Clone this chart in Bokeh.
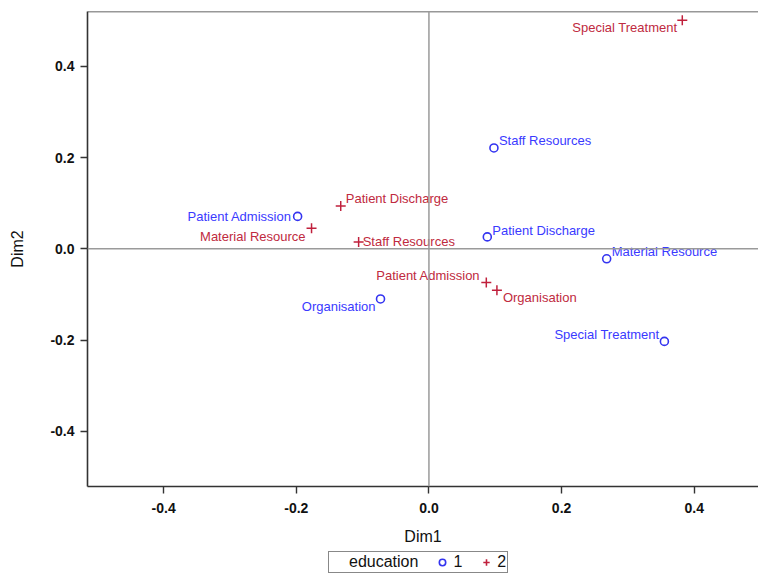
from bokeh.plotting import figure
from bokeh.layouts import column
from bokeh.models import (ColumnDataSource, Span, FixedTicker, Legend,
                          LegendItem, Range1d, PrintfTickFormatter)
from bokeh.embed import file_html
from bokeh.resources import INLINE
from bokeh.core.properties import value

# ---- data ----
categories = ["Organisation", "Patient Admission", "Patient Discharge",
              "Material Resource", "Staff Resources", "Special Treatment"]
dim1_edu1 = [-0.073, -0.198, 0.088, 0.268, 0.098, 0.355]
dim2_edu1 = [-0.110, 0.071, 0.026, -0.022, 0.221, -0.203]
dim1_edu2 = [0.1025, 0.0865, -0.133, -0.177, -0.106, 0.382]
dim2_edu2 = [-0.091, -0.074, 0.094, 0.045, 0.015, 0.501]
x_ticks = [-0.4, -0.2, 0.0, 0.2, 0.4]
y_ticks = [-0.4, -0.2, 0.0, 0.2, 0.4]
groups = ["1", "2"]
legend_title = "education"

# label placement (style): alignment and pixel offsets
align_edu1 = ["right", "right", "left", "left", "left", "right"]
dx_edu1 = [-5, -6, 5, 5, 5, -5]
dy_edu1 = [8, 0, -6, -7, -7, -7]
align_edu2 = ["left", "right", "left", "right", "left", "right"]
dx_edu2 = [6, -6, 5, -6, 4, -5]
dy_edu2 = [7, -7, -7, 8, 0, 7]

BLUE = "#3434f0"
BLUE_T = "#3a3aff"
RED = "#c0203c"
RED_T = "#c02a40"

Y_TOP = 0.520
p = figure(width=758, height=550, output_backend="svg", toolbar_location=None,
           x_range=Range1d(-0.5148, 0.4969), y_range=Range1d(-0.521, Y_TOP),
           min_border_left=87, min_border_right=0, min_border_top=11,
           min_border_bottom=64, x_axis_label="Dim1", y_axis_label="Dim2")
p.grid.visible = False
p.outline_line_color = None
p.background_fill_color = "white"
p.border_fill_color = "white"

for ax, ticks in ((p.xaxis[0], x_ticks), (p.yaxis[0], y_ticks)):
    ax.ticker = FixedTicker(ticks=ticks)
    ax.formatter = PrintfTickFormatter(format="%.1f")
    ax.minor_tick_line_color = None
    ax.major_tick_out = 7
    ax.major_tick_in = 0
    ax.axis_line_color = "#333333"
    ax.axis_line_width = 1.6
    ax.major_tick_line_color = "#333333"
    ax.major_tick_line_width = 1.4
    ax.major_label_text_font = "Liberation Sans"
    ax.major_label_text_font_style = "bold"
    ax.major_label_text_font_size = "14px"
    ax.major_label_text_color = "#111111"
    ax.axis_label_text_font = "Liberation Sans"
    ax.axis_label_text_font_style = "normal"
    ax.axis_label_text_font_size = "16px"
    ax.axis_label_text_color = "#111111"
    ax.major_label_standoff = 6
p.xaxis[0].major_label_standoff = 9
p.xaxis[0].axis_label_standoff = 12
p.yaxis[0].axis_label_standoff = 21

# top frame edge
p.add_layout(Span(location=Y_TOP, dimension="width", line_color="#333333", line_width=1.6))
# reference lines
p.add_layout(Span(location=0, dimension="width", line_color="#9a9a9a", line_width=1.5))
p.add_layout(Span(location=0, dimension="height", line_color="#9a9a9a", line_width=1.5))

s1 = ColumnDataSource(dict(x=dim1_edu1, y=dim2_edu1))
s2 = ColumnDataSource(dict(x=dim1_edu2, y=dim2_edu2))
p.scatter("x", "y", source=s1, marker="circle", size=8, fill_color=None,
          line_color=BLUE, line_width=1.6)
p.scatter("x", "y", source=s2, marker="cross", size=10,
          line_color=RED, line_width=1.5)

def add_labels(xs, ys, aligns, dxs, dys, color):
    for al in ("left", "right"):
        idx = [i for i, a in enumerate(aligns) if a == al]
        if not idx:
            continue
        src = ColumnDataSource(dict(
            x=[xs[i] for i in idx], y=[ys[i] for i in idx],
            t=[categories[i] for i in idx],
            dx=[dxs[i] for i in idx], dy=[dys[i] for i in idx]))
        p.text("x", "y", text="t", source=src, x_offset="dx", y_offset="dy",
               text_align=al, text_baseline="middle", text_color=color,
               text_font=value("Liberation Sans"), text_font_size="13px")

add_labels(dim1_edu1, dim2_edu1, align_edu1, dx_edu1, dy_edu1, BLUE_T)
add_labels(dim1_edu2, dim2_edu2, align_edu2, dx_edu2, dy_edu2, RED_T)

# ---- legend strip (its ranges keep the shared data out of view; only the key shows) ----
lf = figure(width=758, height=25, output_backend="svg", toolbar_location=None,
            x_range=Range1d(10, 11), y_range=Range1d(10, 11),
            x_axis_type=None, y_axis_type=None, min_border=0)
lf.grid.visible = False
lf.outline_line_color = None
lf.background_fill_color = "white"
lf.border_fill_color = "white"
d0 = lf.scatter("x", "y", source=s1, size=0, fill_alpha=0, line_alpha=0)
l1 = lf.scatter("x", "y", source=s1, marker="circle", size=8,
                fill_color=None, line_color=BLUE, line_width=1.6)
l2 = lf.scatter("x", "y", source=s2, marker="cross", size=10,
                line_color=RED, line_width=1.6)
items = [LegendItem(label=legend_title, renderers=[d0]),
         LegendItem(label=groups[0], renderers=[l1]),
         LegendItem(label=groups[1], renderers=[l2])]
legend = Legend(items=items)
legend.orientation = "horizontal"
legend.location = (241, 2)
legend.label_text_font = "Liberation Sans"
legend.label_text_font_size = "16px"
legend.label_text_color = "#111111"
legend.border_line_color = "#111111"
legend.border_line_width = 1.2
legend.background_fill_color = "white"
legend.background_fill_alpha = 1.0
legend.padding = 1
legend.spacing = 16
legend.margin = 0
legend.glyph_width = 16
legend.glyph_height = 18
legend.label_standoff = 3
legend.label_height = 14
legend.label_width = 0
lf.add_layout(legend, "center")

layout = column(p, lf, spacing=0)
open("out.html", "w").write(file_html(layout, INLINE))
